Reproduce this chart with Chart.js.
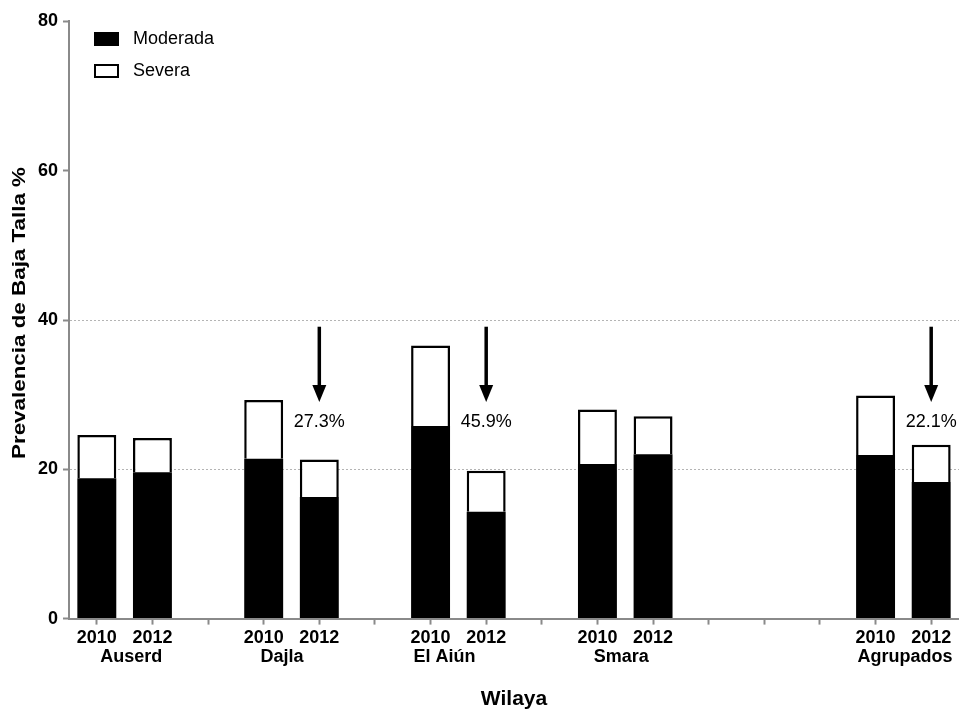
<!DOCTYPE html>
<html><head><meta charset="utf-8">
<script src="https://cdn.jsdelivr.net/npm/chart.js@4"></script>
<style>html,body{margin:0;padding:0;background:#fff;overflow:hidden;}</style>
</head><body>
<canvas id="c" width="959" height="709"></canvas>
<script>
// ---- data ----
const yearLabels = ['2010','2012','', '2010','2012','', '2010','2012','', '2010','2012','', '', '', '2010','2012'];
const groups = ['Auserd','Dajla','El Aiún','Smara','Agrupados'];
const moderada = [18.8, 19.6, null, 21.4, 16.3, null, 25.8, 14.3, null, 20.7, 22.0, null, null, null, 21.9, 18.3];
const severa   = [5.8,  4.6,  null, 7.9,  5.0,  null, 10.8, 5.5,  null, 7.3,  5.1,  null, null, null, 8.0,  5.0];
const yTicks = [0, 20, 40, 60, 80];
const reductionSlots = [4, 7, 15];
const reductionLabels = ['27.3%', '45.9%', '22.1%'];
const arrowFrom = 39.1, arrowTo = 29.0, reductionTextAt = 26.3;

// ---- layout / style (not data) ----
const FONT = "'Liberation Sans', Arial, Helvetica, sans-serif";
const AXIS = '#8a8a8a';
const groupAnchors = [0.62, 3.33, 6.25, 9.43, 14.53]; // label anchors in category units

const overlay = {
  id: 'overlay',
  afterDatasetsDraw(chart) {
    const {ctx, chartArea, scales: {x, y}} = chart;
    ctx.save();
    // reduction arrows
    reductionSlots.forEach((slot, i) => {
      const px = x.getPixelForValue(slot);
      const y0 = y.getPixelForValue(arrowFrom);
      const y1 = y.getPixelForValue(arrowTo);
      const headH = 17, headW = 7;
      ctx.strokeStyle = '#000'; ctx.fillStyle = '#000';
      ctx.lineWidth = 3.5;
      ctx.beginPath(); ctx.moveTo(px, y0); ctx.lineTo(px, y1 - headH + 2); ctx.stroke();
      ctx.beginPath(); ctx.moveTo(px - headW, y1 - headH); ctx.lineTo(px + headW, y1 - headH); ctx.lineTo(px, y1); ctx.closePath(); ctx.fill();
      ctx.font = '18px ' + FONT; ctx.textAlign = 'center'; ctx.textBaseline = 'middle';
      ctx.fillText(reductionLabels[i], px, y.getPixelForValue(reductionTextAt));
    });
    // legend
    ctx.fillStyle = '#000';
    ctx.fillRect(94, 32, 25, 14);
    ctx.lineWidth = 2; ctx.strokeStyle = '#000';
    ctx.strokeRect(95, 65, 23, 12);
    ctx.font = '18px ' + FONT; ctx.textAlign = 'left'; ctx.textBaseline = 'middle';
    ctx.fillText('Moderada', 133, 39.5);
    ctx.fillText('Severa', 133, 71.5);
    // group labels
    ctx.font = 'bold 18px ' + FONT; ctx.textAlign = 'center'; ctx.textBaseline = 'middle';
    groups.forEach((g, i) => {
      const px = x.left + (groupAnchors[i] + 0.5) * (x.width / yearLabels.length);
      ctx.fillText(g, px, 657.5);
    });
    // axis titles
    ctx.font = 'bold 21px ' + FONT;
    ctx.fillText('Wilaya', (chartArea.left + chartArea.right) / 2, 699);
    ctx.save();
    ctx.translate(20, 313);
    ctx.rotate(-Math.PI / 2);
    ctx.font = 'bold 19px ' + FONT;
    const t = 'Prevalencia de Baja Talla %';
    const w = ctx.measureText(t).width;
    ctx.scale(292 / w, 1);
    ctx.fillText(t, 0, 0);
    ctx.restore();
    ctx.restore();
  }
};

new Chart(document.getElementById('c'), {
  type: 'bar',
  data: {
    labels: yearLabels,
    datasets: [
      { label: 'Moderada', data: moderada, backgroundColor: '#000', borderWidth: 0, stack: 's' },
      { label: 'Severa', data: severa, backgroundColor: '#fff', borderColor: '#000', borderWidth: 2.5, borderSkipped: 'start', stack: 's' }
    ]
  },
  options: {
    responsive: false,
    animation: false,
    devicePixelRatio: 1,
    layout: { padding: { top: 21.4, right: -2, left: 0, bottom: 0 } },
    plugins: { legend: { display: false }, tooltip: { enabled: false } },
    datasets: { bar: { barPercentage: 0.7, categoryPercentage: 1 } },
    scales: {
      x: {
        stacked: true,
        offset: true,
        grid: { offset: false, drawOnChartArea: false, drawTicks: true, tickLength: 6, tickColor: AXIS, tickWidth: 2 },
        border: { color: AXIS, width: 2 },
        ticks: { autoSkip: false, maxRotation: 0, minRotation: 0, color: '#000', padding: 3, font: { family: FONT, size: 18, weight: 'bold' } },
        afterFit(s) { s.height = 90.4; }
      },
      y: {
        stacked: true,
        min: 0, max: 80,
        afterBuildTicks(s) { s.ticks = yTicks.map(v => ({ value: v })); },
        grid: {
          color: c => (c.tick && (c.tick.value === 20 || c.tick.value === 40)) ? '#b4b4b4' : 'rgba(0,0,0,0)',
          lineWidth: 1, tickLength: 6, tickColor: AXIS, tickWidth: 2
        },
        border: { color: AXIS, width: 2, dash: [2, 2] },
        ticks: { color: '#000', padding: 5, font: { family: FONT, size: 18, weight: 'bold' } },
        afterFit(s) { s.width = 69; }
      }
    }
  },
  plugins: [overlay]
});
</script>
</body></html>
